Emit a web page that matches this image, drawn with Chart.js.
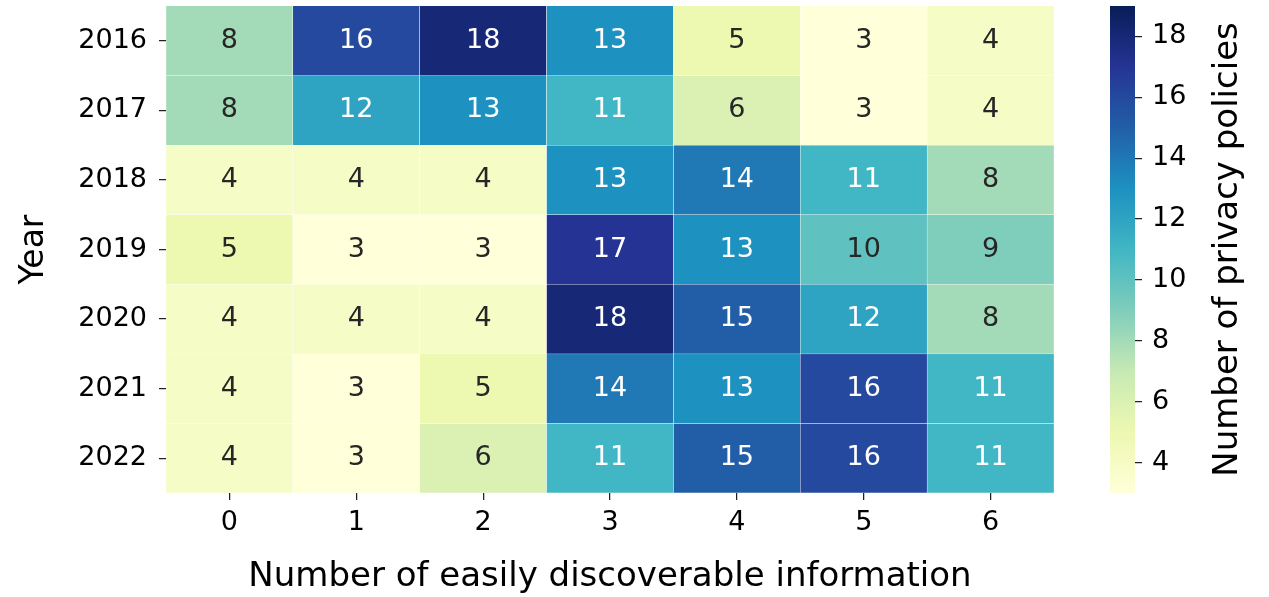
<!DOCTYPE html>
<html>
<head>
<meta charset="utf-8">
<script src="https://cdn.jsdelivr.net/npm/chart.js@4/dist/chart.umd.min.js"></script>
<style>
  html, body { margin: 0; padding: 0; background: #fff; }
  #wrap { position: relative; width: 1269px; height: 597px; overflow: hidden; }
  #heat { position: absolute; left: 0; top: 0; }
  #cbar { position: absolute; left: 1090px; top: 0; }
</style>
</head>
<body>
<div id="wrap">
  <canvas id="heat" width="1100" height="597"></canvas>
  <canvas id="cbar" width="179" height="597"></canvas>
</div>
<script>
const years = ['2016', '2017', '2018', '2019', '2020', '2021', '2022'];
const columns = ['0', '1', '2', '3', '4', '5', '6'];

const counts2016 = [8, 16, 18, 13, 5, 3, 4];
const counts2017 = [8, 12, 13, 11, 6, 3, 4];
const counts2018 = [4, 4, 4, 13, 14, 11, 8];
const counts2019 = [5, 3, 3, 17, 13, 10, 9];
const counts2020 = [4, 4, 4, 18, 15, 12, 8];
const counts2021 = [4, 3, 5, 14, 13, 16, 11];
const counts2022 = [4, 3, 6, 11, 15, 16, 11];
const rows = [counts2016, counts2017, counts2018, counts2019, counts2020, counts2021, counts2022];

const colorbarTicks = [4, 6, 8, 10, 12, 14, 16, 18];
const colorMin = 3;
const colorMax = 19;

// matplotlib YlGnBu
const ylgnbu = ['#ffffd9', '#edf8b1', '#c7e9b4', '#7fcdbb', '#41b6c4', '#1d91c0', '#225ea8', '#253494', '#081d58'];

const FONT = "'DejaVu Sans', sans-serif";
Chart.defaults.color = '#000';
Chart.defaults.font.family = FONT;

function hexToRgb(h) {
  return [1, 3, 5].map(i => parseInt(h.slice(i, i + 2), 16));
}

function colorFor(v) {
  const t = Math.min(1, Math.max(0, (v - colorMin) / (colorMax - colorMin)));
  const pos = t * (ylgnbu.length - 1);
  const i = Math.min(Math.floor(pos), ylgnbu.length - 2);
  const f = pos - i;
  const a = hexToRgb(ylgnbu[i]);
  const b = hexToRgb(ylgnbu[i + 1]);
  return a.map((c, k) => Math.round(c + (b[k] - c) * f));
}

const rgb = c => `rgb(${c[0]},${c[1]},${c[2]})`;

// same rule seaborn uses to pick the annotation colour
function textColor(v) {
  const lin = colorFor(v).map(c => {
    c /= 255;
    return c <= 0.03928 ? c / 12.92 : Math.pow((c + 0.055) / 1.055, 2.4);
  });
  const lum = 0.2126 * lin[0] + 0.7152 * lin[1] + 0.0722 * lin[2];
  return lum > 0.408 ? '#262626' : '#ffffff';
}

// no extra room for half tick labels sticking out past the axis ends
function noEdgePadding(scale) {
  scale.paddingTop = 0;
  scale.paddingBottom = 0;
  scale.paddingLeft = 0;
  scale.paddingRight = 0;
}

const cellLabels = {
  id: 'cellLabels',
  afterDatasetsDraw(chart) {
    const ctx = chart.ctx;
    ctx.save();
    ctx.font = `27px ${FONT}`;
    ctx.textAlign = 'center';
    ctx.textBaseline = 'middle';
    chart.data.datasets.forEach((ds, r) => {
      chart.getDatasetMeta(r).data.forEach((bar, c) => {
        const v = ds.counts[c];
        ctx.fillStyle = textColor(v);
        ctx.fillText(String(v), bar.x, (bar.y + bar.base) / 2);
      });
    });
    ctx.restore();
  }
};

new Chart(document.getElementById('heat'), {
  type: 'bar',
  data: {
    labels: columns,
    datasets: rows.map((row, r) => ({
      label: years[r],
      data: row.map(() => [r - 0.5, r + 0.5]),
      counts: row,
      backgroundColor: row.map(v => rgb(colorFor(v))),
      borderColor: 'rgba(255,255,255,0.85)',
      borderWidth: 0.5,
      grouped: false,
      barPercentage: 1,
      categoryPercentage: 1
    }))
  },
  options: {
    responsive: false,
    animation: false,
    events: [],
    layout: { padding: { top: 6, right: 46, left: 0, bottom: 0 } },
    plugins: { legend: { display: false }, tooltip: { enabled: false } },
    scales: {
      x: {
        grid: { offset: false, drawOnChartArea: false, drawTicks: true, tickLength: 7, color: '#222', lineWidth: 1.25 },
        border: { display: false },
        ticks: { font: { size: 27 }, padding: 7, color: '#000' },
        title: { display: true, text: 'Number of easily discoverable information', font: { size: 34, lineHeight: 1.15 }, padding: { top: 0, bottom: 0 } },
        afterFit(scale) { scale.height = 104; noEdgePadding(scale); }
      },
      y: {
        type: 'linear',
        min: -0.5,
        max: 6.5,
        reverse: true,
        grid: { drawOnChartArea: false, drawTicks: true, tickLength: 7, color: '#222', lineWidth: 1.25 },
        border: { display: false },
        afterBuildTicks(scale) { scale.ticks = years.map((_, i) => ({ value: i })); },
        ticks: { font: { size: 27 }, padding: 12, color: '#000', callback: v => years[v] },
        title: { display: true, text: 'Year', font: { size: 33 }, padding: { top: 15, bottom: 0 } },
        afterFit(scale) { scale.width = 166; noEdgePadding(scale); }
      }
    }
  },
  plugins: [cellLabels]
});

const cbarTitle = {
  id: 'cbarTitle',
  afterDraw(chart) {
    const ctx = chart.ctx;
    const y = chart.scales.y;
    ctx.save();
    ctx.translate(y.left + 93, (y.top + y.bottom) / 2);
    ctx.rotate(-Math.PI / 2);
    ctx.font = `34px ${FONT}`;
    ctx.fillStyle = '#000';
    ctx.textAlign = 'center';
    ctx.textBaseline = 'middle';
    ctx.fillText('Number of privacy policies', 0, 0);
    ctx.restore();
  }
};

new Chart(document.getElementById('cbar'), {
  type: 'bar',
  data: {
    labels: [''],
    datasets: [{
      data: [[colorMin, colorMax]],
      barPercentage: 1,
      categoryPercentage: 1,
      borderWidth: 0,
      backgroundColor(context) {
        const area = context.chart.chartArea;
        if (!area) return ylgnbu[4];
        const ys = context.chart.scales.y;
        const g = context.chart.ctx.createLinearGradient(0, ys.getPixelForValue(colorMin), 0, ys.getPixelForValue(colorMax));
        ylgnbu.forEach((c, i) => g.addColorStop(i / (ylgnbu.length - 1), c));
        return g;
      }
    }]
  },
  options: {
    responsive: false,
    animation: false,
    events: [],
    layout: { padding: { top: 6, right: 0, left: 20, bottom: 104 } },
    plugins: { legend: { display: false }, tooltip: { enabled: false } },
    scales: {
      x: { display: false },
      y: {
        position: 'right',
        min: colorMin,
        max: colorMax,
        grid: { drawOnChartArea: false, drawTicks: true, tickLength: 7, color: '#222', lineWidth: 1.25 },
        border: { display: false },
        afterBuildTicks(scale) { scale.ticks = colorbarTicks.map(v => ({ value: v })); },
        ticks: { font: { size: 27 }, padding: 10, color: '#000' },
        afterFit(scale) { scale.width = 134; noEdgePadding(scale); }
      }
    }
  },
  plugins: [cbarTitle]
});
</script>
</body>
</html>
